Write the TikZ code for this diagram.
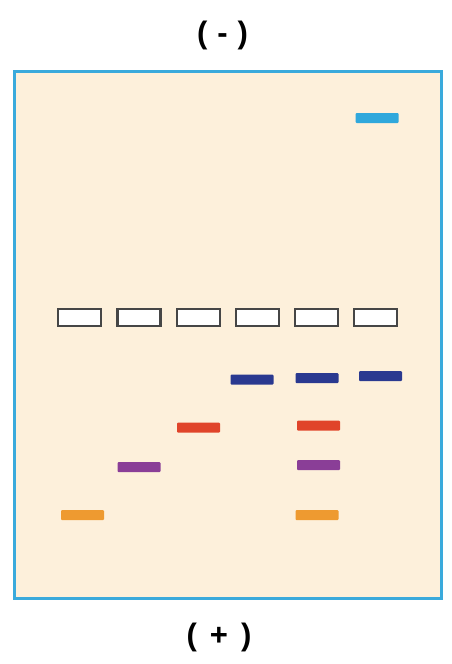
\documentclass[tikz,border=0pt]{standalone}
\usepackage{fontspec}
\setsansfont{Liberation Sans}
\usetikzlibrary{positioning}
\definecolor{gelbg}{RGB}{253,240,219}
\definecolor{gelblue}{RGB}{58,170,220}
\definecolor{wellgray}{RGB}{70,70,70}
\definecolor{dnablue}{RGB}{42,57,144}
\definecolor{dnared}{RGB}{224,68,42}
\definecolor{dnapurple}{RGB}{138,62,151}
\definecolor{dnaorange}{RGB}{238,154,48}
\definecolor{dnacyan}{RGB}{48,168,220}

\begin{document}
\begin{tikzpicture}[x=1pt, y=-1pt,
  well/.style={draw=wellgray, line width=2.2pt, fill=white, minimum width=43pt, minimum height=17pt, inner sep=0pt},
  band/.style={minimum width=43pt, minimum height=10pt, inner sep=0pt, rounded corners=1pt},
  sign/.style={inner sep=0pt, font=\sffamily\bfseries\fontsize{31}{36}\selectfont}]
\path[use as bounding box] (0,0) rectangle (452,664);
\node[draw=gelblue, line width=3pt, fill=gelbg, minimum width=427pt, minimum height=527pt, inner sep=0pt] (gel) at (228,335) {};
\node[sign] (minus) at (222.5,35) {(\hspace{10pt}-\hspace{10pt})};
\node[sign] (plus) at (219,637) {(\hspace{13pt}+\hspace{13pt})};
% wells
\foreach \i in {1,...,6}
  \node[well] (w\i) at (20.5+59.2*\i,317.5) {};
% bands
\node[band, fill=dnacyan] (c6) at (377,118) {};
\node[band, fill=dnablue] (b4) at (252,379.5) {};
\node[band, fill=dnablue] (b5) at (317,378) {};
\node[band, fill=dnablue] (b6) at (380.5,376) {};
\node[band, fill=dnared] (r3) at (198.5,427.5) {};
\node[band, fill=dnared] (r5) at (318.5,425.5) {};
\node[band, fill=dnapurple] (p2) at (139,467) {};
\node[band, fill=dnapurple] (p5) at (318.5,465) {};
\node[band, fill=dnaorange] (o1) at (82.5,515) {};
\node[band, fill=dnaorange] (o5) at (317,515) {};
\end{tikzpicture}
\end{document}
